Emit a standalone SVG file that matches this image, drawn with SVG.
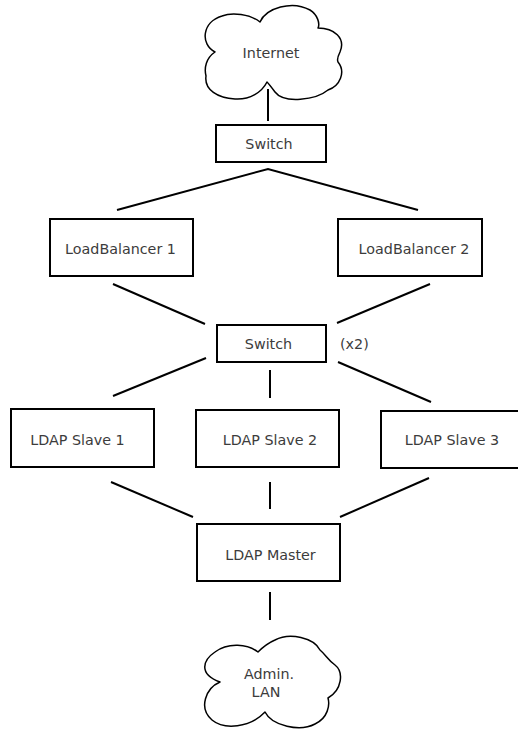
<svg xmlns="http://www.w3.org/2000/svg" width="518" height="731" viewBox="0 0 518 731">
<style>
.box{fill:#fff;stroke:#000;stroke-width:2}
.cloud{fill:#fff;stroke:#000;stroke-width:1.5;stroke-linejoin:round}
.lbl{font-family:"DejaVu Sans",sans-serif;font-size:14.3px;fill:#3c3c3c;text-anchor:middle}
.conn line,.conn polyline{stroke:#000;stroke-width:2;fill:none}
</style>
<rect width="518" height="731" fill="#fff"/>
<g class="conn" id="connectors">
<line x1="268" y1="89" x2="268" y2="121"/>
<polyline points="117,210 268,169 418,210"/>
<line x1="113" y1="284" x2="205" y2="324"/>
<line x1="430" y1="284" x2="337" y2="323"/>
<line x1="206" y1="358" x2="113" y2="396"/>
<line x1="270" y1="370" x2="270" y2="398"/>
<line x1="338" y1="362" x2="431" y2="402"/>
<line x1="111" y1="482" x2="193" y2="517"/>
<line x1="270" y1="482" x2="270" y2="509"/>
<line x1="429" y1="478" x2="340" y2="517"/>
<line x1="270" y1="592" x2="270" y2="620"/>
</g>
<g id="internet">
<path class="cloud" d="M215,52 C200,44 202,22 222,16 C232,12 250,14 260,22 C266,8 292,0 310,10 C318,15 320,24 318,28 C334,28 346,38 340,52 C337,58 337,60 338,62 C346,72 340,86 328,90 C316,100 284,104 275,92 C272,88 269,84 267,82 C262,92 250,100 235,99 C218,98 204,90 206,76 C204,68 206,58 215,52 Z"/>
<text class="lbl" x="271" y="57.5">Internet</text>
</g>
<g id="switch1">
<rect class="box" x="216" y="125" width="110" height="37"/>
<text class="lbl" x="269" y="148.5">Switch</text>
</g>
<g id="lb1">
<rect class="box" x="50" y="219" width="143" height="57"/>
<text class="lbl" x="120.5" y="254">LoadBalancer 1</text>
</g>
<g id="lb2">
<rect class="box" x="338" y="219" width="144" height="57"/>
<text class="lbl" x="414" y="254">LoadBalancer 2</text>
</g>
<g id="switch2">
<rect class="box" x="217" y="325" width="109" height="37"/>
<text class="lbl" x="268.5" y="348.5">Switch</text>
<text class="lbl" x="340" y="348.5" style="text-anchor:start">(x2)</text>
</g>
<g id="slave1">
<rect class="box" x="11" y="409" width="143" height="58"/>
<text class="lbl" x="77.5" y="445">LDAP Slave 1</text>
</g>
<g id="slave2">
<rect class="box" x="196" y="410" width="143" height="57"/>
<text class="lbl" x="270" y="445">LDAP Slave 2</text>
</g>
<g id="slave3">
<rect class="box" x="381" y="411" width="143" height="57"/>
<text class="lbl" x="452" y="445">LDAP Slave 3</text>
</g>
<g id="master">
<rect class="box" x="197" y="524" width="143" height="57"/>
<text class="lbl" x="270.5" y="560">LDAP Master</text>
</g>
<g id="adminlan">
<path class="cloud" d="M258,652 C248,644 228,642 215,652 C203,660 198,674 220,682 C206,688 198,708 212,720 C224,730 250,728 265,712 C272,726 300,732 315,724 C328,718 330,705 328,698 C342,690 344,672 335,665 C328,660 326,655 320,650 C314,638 290,632 275,640 C268,643 262,648 258,652 Z"/>
<text class="lbl" x="269" y="679">Admin.</text>
<text class="lbl" x="266" y="697">LAN</text>
</g>
</svg>
